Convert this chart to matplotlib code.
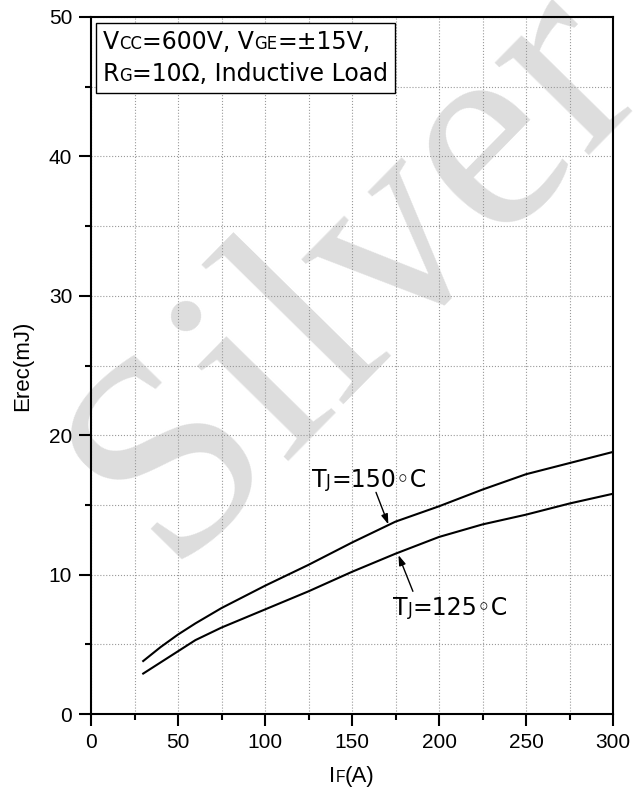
import matplotlib
matplotlib.use('Agg')
import matplotlib.pyplot as plt
from matplotlib.ticker import MultipleLocator
from matplotlib.offsetbox import TextArea, HPacker, VPacker, AnchoredOffsetbox, AnnotationBbox

FONT = ['Liberation Sans', 'DejaVu Sans']
WIDE = ['DejaVu Sans']
plt.rcParams['font.family'] = FONT

# data
current_if = [30, 40, 50, 60, 75, 100, 125, 150, 175, 200, 225, 250, 275, 300]
erec_150 = [3.8, 4.8, 5.7, 6.5, 7.6, 9.2, 10.7, 12.3, 13.8, 14.9, 16.1, 17.2, 18.0, 18.8]
erec_125 = [2.9, 3.7, 4.5, 5.3, 6.2, 7.5, 8.8, 10.2, 11.5, 12.7, 13.6, 14.3, 15.1, 15.8]

x_ticks = [0, 50, 100, 150, 200, 250, 300]
y_ticks = [0, 10, 20, 30, 40, 50]


def rich(parts, size, family=FONT):
    # parts: (text, small) -> small letters sit on the same baseline
    boxes = [TextArea(t, textprops=dict(fontsize=size * 0.7 if small else size,
                                         family=family, color='black'))
             for t, small in parts]
    return HPacker(children=boxes, align='baseline', pad=0, sep=0)


fig = plt.figure(figsize=(6.33, 7.88), dpi=100)
ax = fig.add_axes([91 / 633, 74 / 788, 522 / 633, 697 / 788])
ax.set_facecolor('none')

# watermark behind the axes
fig.text(0.566, 0.655, 'Silver', fontsize=206, family='Liberation Serif',
         color='#dddddd', rotation=45.5, rotation_mode='anchor',
         ha='center', va='center', zorder=-1)

ax.plot(current_if, erec_150, color='black', lw=1.5)
ax.plot(current_if, erec_125, color='black', lw=1.5)

ax.set_xlim(0, 300)
ax.set_ylim(0, 50)
ax.set_xticks(x_ticks)
ax.set_yticks(y_ticks)
ax.xaxis.set_minor_locator(MultipleLocator(25))
ax.yaxis.set_minor_locator(MultipleLocator(5))
ax.tick_params(which='major', direction='out', length=8.5, width=1.5, labelsize=15, pad=5)
ax.tick_params(which='minor', direction='out', length=4.3, width=1.5)
ax.grid(True, which='both', ls=':', color='#999999', lw=0.8)
for s in ax.spines.values():
    s.set_linewidth(1.5)

ax.set_ylabel('Erec(mJ)', fontsize=16)
ax.yaxis.set_label_coords(-0.111, 0.5)
xlab = AnnotationBbox(rich([('I', False), ('F', True), ('(A)', False)], 16),
                      (0.5, -0.089), xycoords='axes fraction', frameon=False,
                      box_alignment=(0.5, 0.5), annotation_clip=False)
ax.add_artist(xlab)

# condition box
line1 = rich([('V', False), ('CC', True), ('=600V, V', False), ('GE', True), ('=\u00b115V,', False)], 17, WIDE)
line2 = rich([('R', False), ('G', True), ('=10\u03a9, Inductive Load', False)], 17, WIDE)
cond = AnchoredOffsetbox(loc='upper left',
                         child=VPacker(children=[line1, line2], align='left', pad=0, sep=6),
                         pad=0.3, borderpad=0, frameon=True, prop=dict(size=16.5),
                         bbox_to_anchor=(0.0096, 0.9914), bbox_transform=ax.transAxes)
cond.patch.set_linewidth(1)
cond.patch.set_edgecolor('black')
cond.patch.set_boxstyle('square', pad=0)
ax.add_artist(cond)

# curve labels with arrows
arrow = dict(arrowstyle='-|>,head_length=0.6,head_width=0.2', color='black',
             lw=1, shrinkA=0, shrinkB=0)
lab150 = rich([('T', False), ('J', True), ('=150\u25e6C', False)], 17, WIDE)
lab125 = rich([('T', False), ('J', True), ('=125\u25e6C', False)], 17, WIDE)
ax.add_artist(AnnotationBbox(lab150, (159.8, 16.8), frameon=False, box_alignment=(0.5, 0.5)))
ax.add_artist(AnnotationBbox(lab125, (206.4, 7.6), frameon=False, box_alignment=(0.5, 0.5)))
ax.annotate('', xy=(170.9, 13.6), xytext=(163.8, 15.9), arrowprops=arrow)
ax.annotate('', xy=(176.7, 11.4), xytext=(185.0, 8.8), arrowprops=arrow)

fig.savefig('out.png', dpi=100)
